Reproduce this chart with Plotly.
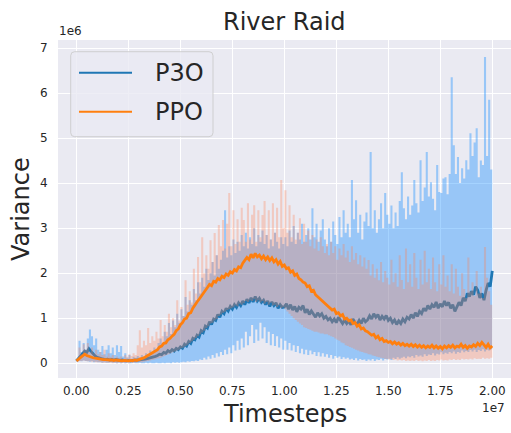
import numpy as np
import plotly.graph_objects as go

# Evaluation timesteps (every 100k steps up to 20M)
timesteps = np.arange(0, 20_000_001, 100_000)

# Variance values, in units of 1e6
p3o_mean = [
    0.05, 0.10, 0.16, 0.22, 0.27, 0.24, 0.32, 0.26, 0.20, 0.16,
    0.13, 0.11, 0.10, 0.09, 0.08, 0.09, 0.07, 0.08, 0.07, 0.08,
    0.07, 0.06, 0.07, 0.06, 0.05, 0.06, 0.05, 0.06, 0.06, 0.07,
    0.07, 0.08, 0.08, 0.09, 0.10, 0.11, 0.12, 0.13, 0.15, 0.17,
    0.20, 0.19, 0.24, 0.22, 0.28, 0.25, 0.30, 0.27, 0.33, 0.30,
    0.36, 0.33, 0.42, 0.38, 0.48, 0.44, 0.55, 0.52, 0.62, 0.58,
    0.72, 0.68, 0.82, 0.78, 0.92, 0.86, 0.98, 0.95, 1.08, 1.02,
    1.15, 1.10, 1.22, 1.16, 1.26, 1.20, 1.30, 1.24, 1.34, 1.28,
    1.38, 1.30, 1.42, 1.34, 1.45, 1.36, 1.48, 1.38, 1.44, 1.35,
    1.40, 1.30, 1.38, 1.26, 1.36, 1.28, 1.34, 1.22, 1.30, 1.24,
    1.25, 1.32, 1.20, 1.30, 1.18, 1.26, 1.14, 1.24, 1.20, 1.28,
    1.12, 1.20, 1.08, 1.16, 1.10, 1.02, 1.12, 1.05, 1.10, 1.00,
    1.04, 0.96, 1.00, 0.92, 0.98, 0.90, 1.02, 0.94, 0.88, 0.96,
    0.88, 0.94, 0.85, 0.98, 0.90, 0.86, 0.95, 0.88, 1.00, 0.92,
    0.96, 1.05, 0.98, 1.10, 1.02, 1.08, 0.96, 1.04, 0.98, 1.06,
    0.95, 1.00, 0.90, 0.96, 0.86, 0.94, 0.88, 0.98, 0.92, 1.02,
    0.98, 1.08, 1.00, 1.12, 1.04, 1.15, 1.10, 1.22, 1.16, 1.28,
    1.20, 1.30, 1.24, 1.36, 1.22, 1.32, 1.25, 1.38, 1.28, 1.35,
    1.22, 1.30, 1.15, 1.25, 1.35, 1.28, 1.45, 1.38, 1.55, 1.48,
    1.60, 1.52, 1.70, 1.62, 1.45, 1.55, 1.40, 1.62, 1.78, 1.70,
    2.05,
]
p3o_upper = [
    0.05, 0.50, 0.25, 0.45, 0.30, 0.55, 0.75, 0.60, 0.40, 0.55,
    0.30, 0.25, 0.38, 0.20, 0.30, 0.40, 0.22, 0.35, 0.18, 0.40,
    0.25, 0.38, 0.15, 0.22, 0.12, 0.18, 0.10, 0.14, 0.12, 0.16,
    0.13, 0.18, 0.15, 0.22, 0.20, 0.28, 0.25, 0.35, 0.30, 0.45,
    0.55, 0.45, 0.70, 0.60, 0.89, 0.65, 0.95, 0.80, 1.10, 0.90,
    1.20, 1.05, 1.47, 1.15, 1.40, 1.30, 1.65, 1.40, 1.80, 1.55,
    1.90, 1.70, 2.10, 1.85, 2.00, 2.25, 1.95, 2.40, 2.10, 2.30,
    2.50, 3.40, 2.35, 2.60, 2.40, 2.75, 2.45, 2.70, 2.50, 2.85,
    2.60, 2.90, 2.55, 2.80, 2.65, 3.00, 2.60, 2.85, 2.70, 2.95,
    2.65, 2.85, 2.55, 2.75, 2.60, 2.90, 2.70, 2.55, 2.80, 2.65,
    2.80, 2.60, 2.95, 2.70, 3.05, 2.65, 2.90, 2.75, 3.10, 2.70,
    2.85, 3.00, 2.75, 3.44, 2.80, 3.10, 2.70, 2.95, 3.20, 2.75,
    2.60, 3.00, 2.70, 3.15, 2.85, 2.65, 3.25, 2.80, 3.40, 2.90,
    3.10, 2.80, 4.07, 3.20, 3.62, 2.90, 3.30, 2.75, 3.15, 3.35,
    3.05, 4.69, 3.00, 3.40, 2.90, 3.20, 3.55, 3.00, 3.78, 3.30,
    3.10, 3.50, 3.00, 3.35, 3.05, 3.60, 4.24, 3.44, 3.20, 3.70,
    3.30, 3.50, 4.07, 3.55, 3.35, 4.51, 3.60, 3.90, 4.69, 3.70,
    4.02, 3.65, 3.40, 4.40, 3.80, 3.78, 4.10, 4.13, 3.75, 4.20,
    6.35, 4.84, 4.20, 4.58, 4.00, 4.33, 4.10, 4.51, 4.30, 5.11,
    4.60, 4.90, 5.22, 4.13, 4.50, 4.40, 6.80, 4.60, 5.85, 4.30,
    4.20,
]
p3o_lower = [
    0.03, 0.05, 0.04, 0.06, 0.05, 0.04, 0.03, 0.04, 0.02, 0.03,
    0.02, 0.02, 0.01, 0.02, 0.01, 0.01, 0.02, 0.01, 0.01, 0.00,
    0.01, 0.00, 0.01, 0.00, 0.01, 0.00, 0.00, 0.01, 0.00, 0.00,
    0.01, 0.00, 0.00, 0.01, 0.00, 0.01, 0.00, 0.00, 0.01, 0.00,
    0.00, 0.01, 0.00, 0.01, 0.01, 0.00, 0.02, 0.01, 0.02, 0.01,
    0.02, 0.03, 0.02, 0.04, 0.03, 0.05, 0.04, 0.06, 0.05, 0.08,
    0.07, 0.12, 0.08, 0.15, 0.10, 0.18, 0.12, 0.22, 0.15, 0.25,
    0.18, 0.30, 0.20, 0.35, 0.22, 0.40, 0.28, 0.50, 0.30, 0.55,
    0.35, 0.70, 0.40, 0.60, 0.85, 0.45, 0.75, 0.50, 0.90, 0.55,
    0.80, 0.45, 0.70, 0.40, 0.65, 0.38, 0.60, 0.35, 0.55, 0.30,
    0.50, 0.30, 0.45, 0.28, 0.40, 0.25, 0.38, 0.22, 0.32, 0.20,
    0.30, 0.18, 0.28, 0.20, 0.25, 0.16, 0.24, 0.15, 0.22, 0.14,
    0.20, 0.12, 0.18, 0.10, 0.16, 0.12, 0.15, 0.09, 0.13, 0.10,
    0.12, 0.08, 0.10, 0.07, 0.11, 0.06, 0.09, 0.07, 0.08, 0.05,
    0.08, 0.06, 0.09, 0.05, 0.08, 0.07, 0.10, 0.06, 0.09, 0.08,
    0.10, 0.07, 0.12, 0.09, 0.13, 0.10, 0.12, 0.14, 0.11, 0.15,
    0.13, 0.16, 0.12, 0.18, 0.15, 0.17, 0.14, 0.20, 0.16, 0.19,
    0.18, 0.22, 0.17, 0.21, 0.19, 0.24, 0.20, 0.23, 0.21, 0.25,
    0.22, 0.26, 0.21, 0.25, 0.23, 0.28, 0.24, 0.27, 0.25, 0.29,
    0.26, 0.30, 0.25, 0.29, 0.27, 0.31, 0.26, 0.30, 0.28, 0.31,
    0.29,
]

ppo_mean = [
    0.05, 0.09, 0.13, 0.17, 0.20, 0.17, 0.15, 0.14, 0.12, 0.11,
    0.10, 0.09, 0.09, 0.08, 0.08, 0.07, 0.07, 0.07, 0.06, 0.07,
    0.06, 0.06, 0.05, 0.06, 0.05, 0.05, 0.06, 0.05, 0.07, 0.06,
    0.08, 0.09, 0.11, 0.13, 0.16, 0.18, 0.22, 0.24, 0.28, 0.30,
    0.36, 0.38, 0.44, 0.45, 0.52, 0.55, 0.60, 0.64, 0.72, 0.76,
    0.85, 0.90, 0.98, 1.00, 1.10, 1.12, 1.22, 1.30, 1.36, 1.42,
    1.48, 1.55, 1.62, 1.68, 1.75, 1.72, 1.82, 1.80, 1.88, 1.85,
    1.93, 1.90, 1.98, 1.95, 2.03, 2.00, 2.08, 2.05, 2.14, 2.12,
    2.22, 2.28, 2.35, 2.30, 2.42, 2.34, 2.44, 2.36, 2.40, 2.32,
    2.38, 2.30, 2.36, 2.28, 2.34, 2.25, 2.30, 2.20, 2.26, 2.15,
    2.18, 2.10, 2.12, 2.02, 2.05, 1.95, 1.98, 1.88, 1.85, 1.80,
    1.78, 1.70, 1.72, 1.60, 1.62, 1.52, 1.48, 1.44, 1.40, 1.36,
    1.32, 1.28, 1.22, 1.18, 1.20, 1.10, 1.12, 1.05, 1.08, 0.98,
    1.00, 0.94, 0.96, 0.88, 0.90, 0.82, 0.85, 0.76, 0.78, 0.72,
    0.70, 0.66, 0.62, 0.64, 0.56, 0.60, 0.52, 0.55, 0.48, 0.50,
    0.46, 0.48, 0.43, 0.47, 0.42, 0.45, 0.40, 0.44, 0.39, 0.42,
    0.38, 0.42, 0.37, 0.41, 0.36, 0.40, 0.35, 0.39, 0.34, 0.38,
    0.35, 0.40, 0.34, 0.38, 0.33, 0.37, 0.32, 0.38, 0.34, 0.39,
    0.35, 0.40, 0.34, 0.38, 0.36, 0.42, 0.35, 0.39, 0.33, 0.38,
    0.36, 0.41, 0.37, 0.44, 0.39, 0.46, 0.40, 0.35, 0.42, 0.34,
    0.38,
]
ppo_upper = [
    0.05, 0.35, 0.20, 0.42, 0.30, 0.45, 0.25, 0.35, 0.22, 0.30,
    0.20, 0.25, 0.18, 0.30, 0.15, 0.22, 0.14, 0.18, 0.12, 0.15,
    0.12, 0.15, 0.10, 0.18, 0.14, 0.20, 0.16, 0.22, 0.18, 0.40,
    0.73, 0.35, 0.50, 0.40, 0.78, 0.45, 0.60, 0.50, 0.70, 0.55,
    0.96, 0.60, 0.85, 0.70, 1.10, 0.80, 1.00, 0.85, 1.40, 0.95,
    1.25, 1.05, 1.84, 1.30, 1.60, 1.35, 2.10, 1.55, 2.36, 1.80,
    2.80, 2.00, 2.40, 2.10, 2.73, 2.25, 2.89, 2.40, 3.07, 2.60,
    3.18, 2.55, 3.10, 3.78, 2.60, 3.40, 2.65, 3.20, 2.70, 3.45,
    3.18, 2.70, 3.55, 2.75, 3.30, 3.51, 2.70, 3.40, 2.80, 3.29,
    3.60, 2.85, 3.40, 2.75, 3.55, 2.90, 3.45, 2.80, 4.07, 3.00,
    3.84, 2.90, 3.51, 2.80, 3.30, 2.75, 2.90, 3.22, 2.65, 3.10,
    2.70, 2.95, 2.60, 2.85, 2.55, 2.75, 2.50, 2.80, 2.60, 2.45,
    2.65, 2.40, 2.70, 2.45, 2.60, 2.30, 2.55, 2.40, 2.65, 2.35,
    2.50, 2.25, 2.60, 2.30, 2.45, 2.20, 2.40, 2.15, 2.35, 2.10,
    2.29, 1.95, 2.20, 1.90, 2.10, 1.84, 2.25, 1.80, 2.05, 1.90,
    1.75, 2.30, 1.80, 2.00, 1.70, 2.40, 1.85, 1.65, 2.55, 1.80,
    2.20, 1.70, 2.45, 1.90, 1.65, 2.30, 1.75, 2.50, 1.80, 2.10,
    1.65, 2.35, 1.80, 1.60, 2.20, 1.75, 2.40, 1.70, 1.95, 1.60,
    2.20, 1.55, 2.10, 1.70, 1.50, 2.00, 1.65, 1.45, 2.35, 1.60,
    1.80, 1.50, 2.05, 1.55, 1.70, 1.45, 2.58, 1.90, 1.60, 1.30,
    1.00,
]
ppo_lower = [
    0.03, 0.04, 0.05, 0.06, 0.05, 0.04, 0.04, 0.03, 0.03, 0.02,
    0.02, 0.02, 0.01, 0.01, 0.01, 0.01, 0.01, 0.00, 0.01, 0.00,
    0.01, 0.00, 0.01, 0.00, 0.01, 0.00, 0.01, 0.01, 0.01, 0.02,
    0.02, 0.02, 0.03, 0.04, 0.05, 0.06, 0.07, 0.08, 0.10, 0.11,
    0.12, 0.14, 0.16, 0.18, 0.20, 0.22, 0.24, 0.26, 0.28, 0.30,
    0.33, 0.35, 0.38, 0.41, 0.45, 0.48, 0.52, 0.56, 0.60, 0.64,
    0.68, 0.72, 0.78, 0.82, 0.88, 0.90, 0.95, 0.98, 1.05, 1.08,
    1.12, 1.14, 1.18, 1.20, 1.22, 1.24, 1.28, 1.26, 1.32, 1.30,
    1.33, 1.38, 1.36, 1.40, 1.38, 1.42, 1.36, 1.40, 1.35, 1.38,
    1.32, 1.36, 1.30, 1.34, 1.28, 1.30, 1.25, 1.28, 1.22, 1.24,
    1.20, 1.15, 1.10, 1.05, 1.00, 0.96, 0.92, 0.88, 0.85, 0.80,
    0.78, 0.76, 0.74, 0.72, 0.70, 0.70, 0.68, 0.66, 0.66, 0.64,
    0.64, 0.62, 0.60, 0.58, 0.55, 0.52, 0.50, 0.46, 0.44, 0.40,
    0.38, 0.36, 0.34, 0.32, 0.30, 0.28, 0.26, 0.25, 0.23, 0.22,
    0.20, 0.19, 0.17, 0.16, 0.14, 0.13, 0.12, 0.11, 0.10, 0.09,
    0.08, 0.09, 0.07, 0.08, 0.06, 0.07, 0.06, 0.07, 0.05, 0.06,
    0.05, 0.06, 0.05, 0.07, 0.05, 0.06, 0.04, 0.06, 0.05, 0.07,
    0.05, 0.06, 0.05, 0.07, 0.06, 0.08, 0.06, 0.07, 0.06, 0.08,
    0.07, 0.09, 0.07, 0.08, 0.07, 0.10, 0.08, 0.09, 0.08, 0.10,
    0.08, 0.11, 0.09, 0.10, 0.09, 0.12, 0.10, 0.11, 0.10, 0.12,
    0.12,
]

x_ticks = [0.0, 0.25, 0.5, 0.75, 1.0, 1.25, 1.5, 1.75, 2.0]
y_ticks = [0, 1, 2, 3, 4, 5, 6, 7]

BLUE = "#1f77b4"
ORANGE = "#ff7f0e"
BLUE_FILL = "rgba(30,144,255,0.40)"
ORANGE_FILL = "rgba(255,127,80,0.30)"
TEXT = "#262626"
FONT = "DejaVu Sans"

x = timesteps / 1e7

fig = go.Figure()


def add_band(lower, upper, fillcolor):
    fig.add_trace(go.Scatter(x=x, y=lower, mode="lines", line=dict(width=0, shape="hv"),
                             showlegend=False, hoverinfo="skip"))
    fig.add_trace(go.Scatter(x=x, y=upper, mode="lines", line=dict(width=0, shape="hv"),
                             fill="tonexty", fillcolor=fillcolor,
                             showlegend=False, hoverinfo="skip"))


# P3O spread band and mean
add_band(p3o_lower, p3o_upper, BLUE_FILL)
fig.add_trace(go.Scatter(x=x, y=p3o_mean, mode="lines", name="P3O",
                         line=dict(color=BLUE, width=2.8), showlegend=False))

# PPO spread band and mean
add_band(ppo_lower, ppo_upper, ORANGE_FILL)
fig.add_trace(go.Scatter(x=x, y=ppo_mean, mode="lines", name="PPO",
                         line=dict(color=ORANGE, width=2.8), showlegend=False))

W, H = 511, 433
L, R, T, B = 58, 0, 40, 55
PW, PH = W - L - R, H - T - B


def px(xp):
    return (xp - L) / PW


def py(yp):
    return (H - B - yp) / PH


annotations = [
    dict(text="River Raid", x=px(284.5), y=py(22), font=dict(size=24)),
    dict(text="Variance", x=px(21), y=py(209), textangle=-90, font=dict(size=24)),
    dict(text="Timesteps", x=px(285), y=py(414), font=dict(size=24)),
    dict(text="1e6", x=px(70), y=py(31), font=dict(size=12)),
    dict(text="1e7", x=px(493), y=py(408), font=dict(size=12)),
    dict(text="P3O", x=px(153), y=py(73), xanchor="left", font=dict(size=24)),
    dict(text="PPO", x=px(153), y=py(112), xanchor="left", font=dict(size=24)),
]
for a in annotations:
    a.update(xref="paper", yref="paper", showarrow=False)
    a.setdefault("xanchor", "center")
    a["yanchor"] = "middle"
    a["font"].update(family=FONT, color=TEXT)

# Legend frame with rounded corners and its line samples
x0, x1, y0, y1, r = px(70.7), px(213), py(51.7), py(136.7), 4
rx, ry = r / PW, r / PH
frame = (f"M {x0+rx},{y0} L {x1-rx},{y0} Q {x1},{y0} {x1},{y0-ry} "
         f"L {x1},{y1+ry} Q {x1},{y1} {x1-rx},{y1} L {x0+rx},{y1} "
         f"Q {x0},{y1} {x0},{y1+ry} L {x0},{y0-ry} Q {x0},{y0} {x0+rx},{y0} Z")
shapes = [
    dict(type="path", path=frame, xref="paper", yref="paper",
         fillcolor="rgba(234,234,242,0.8)", line=dict(color="rgba(204,204,204,0.9)", width=1)),
    dict(type="line", xref="paper", yref="paper", x0=px(79), x1=px(132),
         y0=py(72.7), y1=py(72.7), line=dict(color=BLUE, width=2)),
    dict(type="line", xref="paper", yref="paper", x0=px(79), x1=px(132),
         y0=py(111.7), y1=py(111.7), line=dict(color=ORANGE, width=2)),
]

fig.update_layout(
    width=W, height=H,
    margin=dict(l=L, r=R, t=T, b=B),
    paper_bgcolor="white",
    plot_bgcolor="#EAEAF2",
    font=dict(family=FONT, color=TEXT, size=12),
    showlegend=False,
    annotations=annotations,
    shapes=shapes,
    hovermode=False,
)
fig.update_xaxes(
    range=[-0.0885, 2.09], tickvals=x_ticks, tickformat=".2f",
    showgrid=True, gridcolor="white", gridwidth=1, zeroline=False,
    ticks="outside", ticklen=2, tickcolor="rgba(0,0,0,0)",
    tickfont=dict(size=12, color=TEXT), showline=False,
)
fig.update_yaxes(
    range=[-0.33, 7.18], tickvals=y_ticks,
    showgrid=True, gridcolor="white", gridwidth=1, zeroline=False,
    ticks="outside", ticklen=7, tickcolor="rgba(0,0,0,0)",
    tickfont=dict(size=12, color=TEXT), showline=False,
)

fig.write_html("out.html")
